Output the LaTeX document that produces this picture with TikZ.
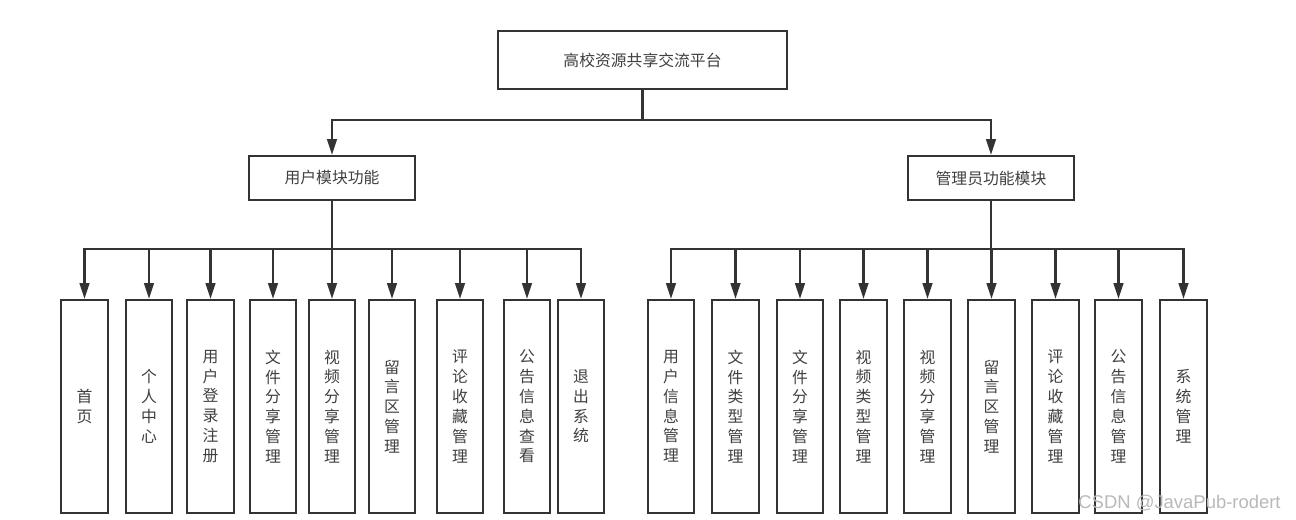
\documentclass[tikz,border=0pt]{standalone}
\usepackage{fontspec}
\setmainfont{Noto Sans CJK SC}
\newfontfamily\markfont{Liberation Sans}
\usetikzlibrary{arrows.meta}

\definecolor{linegray}{HTML}{333333}
\definecolor{textgray}{HTML}{404040}

\tikzset{
  box/.style={draw=linegray, line width=1.3pt, fill=white, text=textgray,
    font=\fontsize{9pt}{11.3pt}\selectfont, inner sep=0pt, align=center},
  topbox/.style={box, minimum width=5.78cm, minimum height=1.16cm},
  midbox/.style={box, minimum width=3.32cm, minimum height=0.88cm},
  leafbox/.style={box, minimum width=0.93cm, minimum height=4.26cm},
  arr/.style={draw=linegray, line width=1.3pt, -{Triangle[width=5.5pt,length=9pt]}},
}

\begin{document}
\begin{tikzpicture}[x=0.02cm, y=-0.02cm]
  \useasboundingbox (0,0) rectangle (1296,520);

  % 顶层
  \node[topbox] (root) at (642.5,60) {高校资源共享交流平台};

  % 两个模块
  \node[midbox] (user)  at (332,178) {用户模块功能};
  \node[midbox] (admin) at (991,178) {管理员功能模块};

  % 汇流线所在高度
  \coordinate (busT) at (0,120);
  \coordinate (busL) at (0,249);
  \coordinate (busR) at (0,249);

  % 用户模块
  \node[leafbox] (u1) at (84.5,406.5)  {首\\页};
  \node[leafbox] (u2) at (149,406.5)   {个\\人\\中\\心};
  \node[leafbox] (u3) at (210.5,406.5) {用\\户\\登\\录\\注\\册};
  \node[leafbox] (u4) at (273,406.5)   {文\\件\\分\\享\\管\\理};
  \node[leafbox] (u5) at (332,406.5)   {视\\频\\分\\享\\管\\理};
  \node[leafbox] (u6) at (392,406.5)   {留\\言\\区\\管\\理};
  \node[leafbox] (u7) at (460,406.5)   {评\\论\\收\\藏\\管\\理};
  \node[leafbox] (u8) at (527,406.5)   {公\\告\\信\\息\\查\\看};
  \node[leafbox] (u9) at (581,406.5)   {退\\出\\系\\统};

  % 管理员模块
  \node[leafbox] (a1) at (671,406.5)    {用\\户\\信\\息\\管\\理};
  \node[leafbox] (a2) at (735.5,406.5)  {文\\件\\类\\型\\管\\理};
  \node[leafbox] (a3) at (800,406.5)    {文\\件\\分\\享\\管\\理};
  \node[leafbox] (a4) at (863.5,406.5)  {视\\频\\类\\型\\管\\理};
  \node[leafbox] (a5) at (927.5,406.5)  {视\\频\\分\\享\\管\\理};
  \node[leafbox] (a6) at (991.5,406.5)  {留\\言\\区\\管\\理};
  \node[leafbox] (a7) at (1055.5,406.5) {评\\论\\收\\藏\\管\\理};
  \node[leafbox] (a8) at (1118.5,406.5) {公\\告\\信\\息\\管\\理};
  \node[leafbox] (a9) at (1183.5,406.5) {系\\统\\管\\理};

  % 连线
  \draw[arr] (root.south) |- (busT -| user.north) -- (user.north);
  \draw[arr] (root.south) |- (busT -| admin.north) -- (admin.north);

  \foreach \leaf in {u1,u2,u3,u4,u5,u6,u7,u8,u9}
    \draw[arr] (user.south) |- (busL -| \leaf.north) -- (\leaf.north);
  \foreach \leaf in {a1,a2,a3,a4,a5,a6,a7,a8,a9}
    \draw[arr] (admin.south) |- (busR -| \leaf.north) -- (\leaf.north);

  % 水印
  \node[anchor=east, text=gray!55, font=\markfont\fontsize{10.5pt}{12pt}\selectfont, inner sep=0pt]
    (mark) at (1281,503) {CSDN @JavaPub-rodert};
\end{tikzpicture}
\end{document}
